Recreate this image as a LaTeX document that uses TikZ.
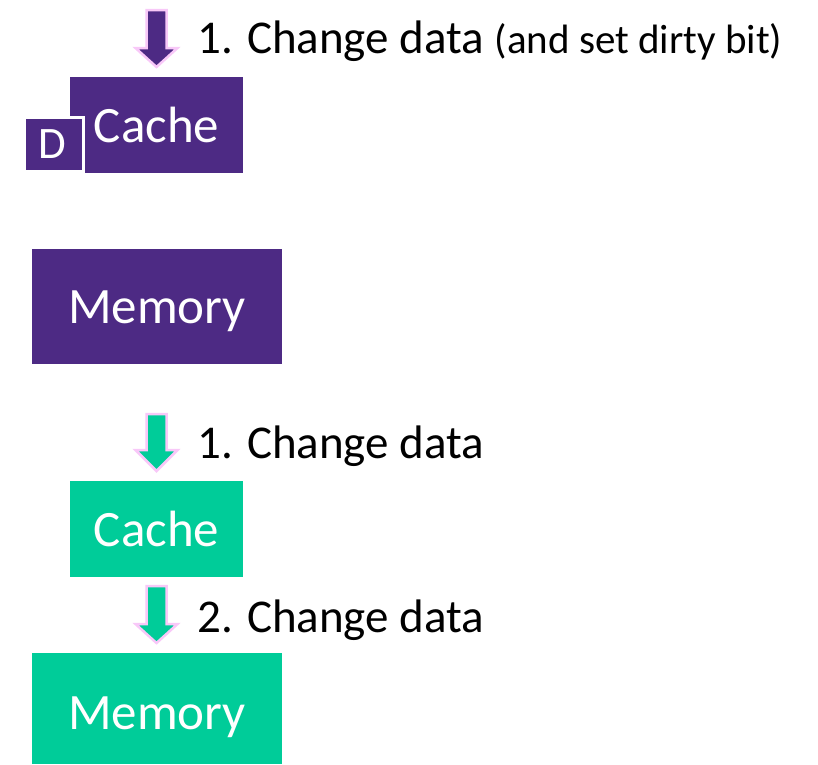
\documentclass[tikz,border=0pt]{standalone}
\usepackage{fontspec}
\setmainfont{Carlito}
\definecolor{wbpurple}{HTML}{4D2A84}
\definecolor{wtgreen}{HTML}{00CC99}
\definecolor{arrowpink}{HTML}{F8C8F8}
\tikzset{
  boxshape/.style={rectangle, draw=none, inner sep=0pt, anchor=north west},
  boxtext/.style={text=white, inner sep=0pt, anchor=base, font=\fontsize{51}{51}\selectfont},
  labeltext/.style={text=black, inner sep=0pt, anchor=base west, font=\fontsize{47}{47}\selectfont},
  blockarrow/.style={draw=arrowpink, line width=2.5pt, line join=miter},
}
\begin{document}
\begin{tikzpicture}[x=1pt,y=-1pt]
\useasboundingbox (0,0) rectangle (818,764);

% ---- write-back (purple) ----
\filldraw[blockarrow, fill=wbpurple] (146.5,10) -- (166.5,10) -- (166.5,48) -- (177.5,48) -- (156.5,67) -- (135.5,48) -- (146.5,48) -- cycle;
\node[labeltext] (wblabel) at (197,53) {1. Change data \fontsize{41}{41}\selectfont(and set dirty bit)};

\node[boxshape, fill=wbpurple, minimum width=173pt, minimum height=96pt] (wbcache) at (70,77) {};
\node[boxtext] (wbcachetext) at (156.5,142) {Cache};

\node[rectangle, inner sep=0pt, fill=wbpurple, draw=white, line width=3pt, minimum width=59pt, minimum height=54pt, anchor=north west] (dirty) at (22.5,115.5) {};
\node[text=white, inner sep=0pt, anchor=base, font=\fontsize{45}{45}\selectfont] (dirtytext) at (52,158.5) {D};

\node[boxshape, fill=wbpurple, minimum width=250pt, minimum height=115pt] (wbmem) at (32,249) {};
\node[boxtext] (wbmemtext) at (157,323) {Memory};

% ---- write-through (green) ----
\filldraw[blockarrow, fill=wtgreen] (146.5,414) -- (166.5,414) -- (166.5,450) -- (177.5,450) -- (156.5,471) -- (135.5,450) -- (146.5,450) -- cycle;
\node[labeltext] (wtlabelone) at (197,458) {1. Change data};

\node[boxshape, fill=wtgreen, minimum width=173pt, minimum height=96pt] (wtcache) at (70,481) {};
\node[boxtext] (wtcachetext) at (156.5,546) {Cache};

\filldraw[blockarrow, fill=wtgreen] (146.5,586) -- (166.5,586) -- (166.5,624) -- (177.5,624) -- (156.5,643) -- (135.5,624) -- (146.5,624) -- cycle;
\node[labeltext] (wtlabeltwo) at (197,632) {2. Change data};

\node[boxshape, fill=wtgreen, minimum width=250pt, minimum height=111pt] (wtmem) at (32,653) {};
\node[boxtext] (wtmemtext) at (157,729) {Memory};
\end{tikzpicture}
\end{document}
